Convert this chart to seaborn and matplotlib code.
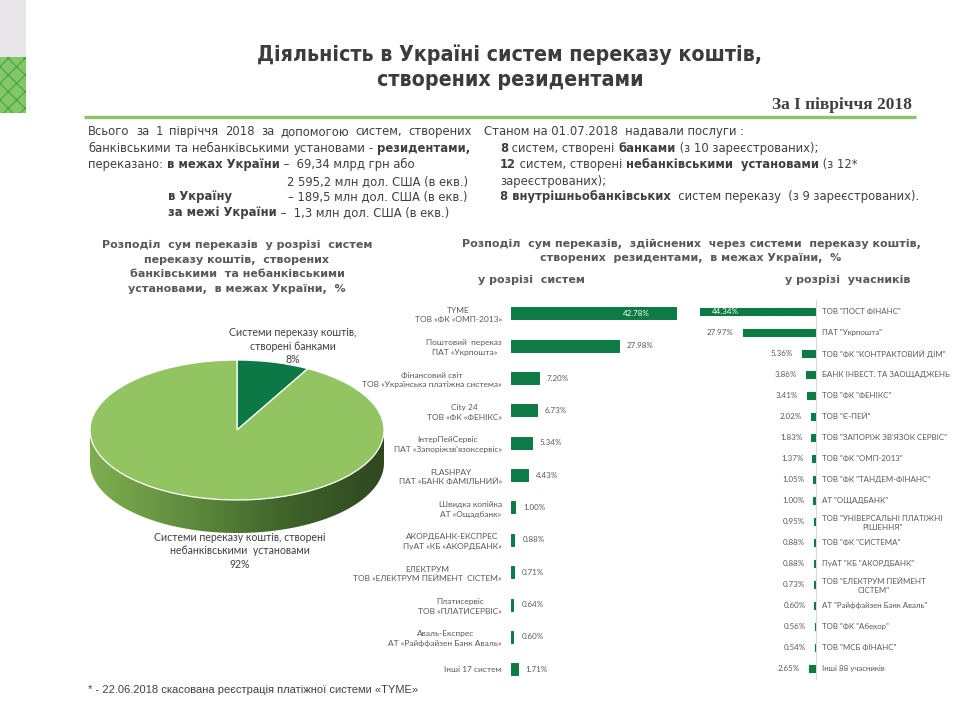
import os
import numpy as np
import matplotlib
matplotlib.use("Agg")
import matplotlib.pyplot as plt
import seaborn as sns
from matplotlib import font_manager as fm
from matplotlib.font_manager import FontProperties
from matplotlib.patches import Polygon, Rectangle
from matplotlib.colors import LinearSegmentedColormap

# ------------------------------------------------------------------ data
pie_categories = ["Системи переказу коштів,\nстворені банками",
                  "Системи переказу коштів, створені\nнебанківськими  установами"]
pie_values = [8, 92]

system_labels = [
    "TYME\nТОВ «ФК «ОМП-2013»",
    "Поштовий  переказ\nПАТ «Укрпошта»",
    "Фінансовий світ\nТОВ «Українська платіжна система»",
    "City 24\nТОВ «ФК «ФЕНІКС»",
    "ІнтерПейСервіс\nПАТ «Запоріжзв'язоксервіс»",
    "FLASHPAY\nПАТ «БАНК ФАМІЛЬНИЙ»",
    "Швидка копійка\nАТ «Ощадбанк»",
    "АКОРДБАНК-ЕКСПРЕС\nПуАТ «КБ «АКОРДБАНК»",
    "ЕЛЕКТРУМ\nТОВ «ЕЛЕКТРУМ ПЕЙМЕНТ  СІСТЕМ»",
    "Платисервіс\nТОВ «ПЛАТИСЕРВІС»",
    "Аваль-Експрес\nАТ «Райффайзен Банк Аваль»",
    "Інші 17 систем",
]
system_values = [42.78, 27.98, 7.20, 6.73, 5.34, 4.43, 1.00, 0.88, 0.71, 0.64, 0.60, 1.71]

participant_labels = [
    'ТОВ "ПОСТ ФІНАНС"',
    'ПАТ "Укрпошта"',
    'ТОВ "ФК "КОНТРАКТОВИЙ ДІМ"',
    'БАНК ІНВЕСТ. ТА ЗАОЩАДЖЕНЬ',
    'ТОВ "ФК "ФЕНІКС"',
    'ТОВ "Є-ПЕЙ"',
    'ТОВ "ЗАПОРІЖ ЗВ\'ЯЗОК СЕРВІС"',
    'ТОВ "ФК "ОМП-2013"',
    'ТОВ "ФК "ТАНДЕМ-ФІНАНС"',
    'АТ "ОЩАДБАНК"',
    'ТОВ "УНІВЕРСАЛЬНІ ПЛАТІЖНІ\nРІШЕННЯ"',
    'ТОВ "ФК "СИСТЕМА"',
    'ПуАТ "КБ "АКОРДБАНК"',
    'ТОВ "ЕЛЕКТРУМ ПЕЙМЕНТ\nСІСТЕМ"',
    'АТ "Райффайзен Банк Аваль"',
    'ТОВ "ФК "Абекор"',
    'ТОВ "МСБ ФІНАНС"',
    'Інші 88 учасників',
]
participant_values = [44.34, 27.97, 5.36, 3.86, 3.41, 2.02, 1.83, 1.37, 1.05, 1.00,
                      0.95, 0.88, 0.88, 0.73, 0.60, 0.56, 0.54, 2.65]

title_lines = ["Діяльність в Україні систем переказу коштів,", "створених резидентами"]
period_text = "За І півріччя 2018"
pie_title = ("Розподіл  сум переказів  у розрізі  систем\nпереказу коштів,  створених\n"
             "банківськими  та небанківськими\nустановами,  в межах України,  %")
bars_title = ("Розподіл  сум переказів,  здійснених  через системи  переказу коштів,\n"
              "створених  резидентами,  в межах України,  %")
sub_left = "у розрізі  систем"
sub_right = "у розрізі  учасників"
footnote = "* - 22.06.2018 скасована реєстрація платіжної системи «TYME»"

# ------------------------------------------------------------------ style
sns.set_style("white")
SMALL = ["Lato", "Open Sans", "DejaVu Sans"]
BOLDF = ["DejaVu Sans"]
plt.rcParams["font.family"] = ["DejaVu Sans"]
plt.rcParams["hatch.linewidth"] = 0.7


def find_font(*basenames):
    for f in fm.fontManager.ttflist:
        if os.path.basename(f.fname) in basenames:
            return f.fname
    return None


COND_REG = find_font("LiberationSansNarrow-Regular.ttf", "DejaVuSansCondensed.ttf")
COND_BOLD = find_font("LiberationSansNarrow-Bold.ttf", "DejaVuSansCondensed-Bold.ttf")


def cfp(bold, size):
    path = COND_BOLD if bold else COND_REG
    if path:
        return FontProperties(fname=path, size=size)
    return FontProperties(family="DejaVu Sans", weight="bold" if bold else "normal",
                          size=size)


TXT = "#404040"
GRAYTXT = "#595959"
BAR = "#0e7a45"
PIE_DARK = "#0b7845"
PIE_LIGHT = "#92c562"

W, H = 960, 720
fig = plt.figure(figsize=(9.6, 7.2), dpi=100)
fig.patch.set_facecolor("white")

bg = fig.add_axes([0, 0, 1, 1])
bg.set_xlim(0, W)
bg.set_ylim(H, 0)
bg.axis("off")
renderer = fig.canvas.get_renderer()


def box(x0, y0, x1, y1):
    return [x0 / W, 1 - y1 / H, (x1 - x0) / W, (y1 - y0) / H]


def width_of(s, prop):
    t1 = bg.text(0, 0, "|" + s + "|", fontproperties=prop)
    w1 = t1.get_window_extent(renderer).width
    t1.remove()
    t2 = bg.text(0, 0, "||", fontproperties=prop)
    w2 = t2.get_window_extent(renderer).width
    t2.remove()
    return w1 - w2


def fit_size(s, bold, target):
    return 10 * target / width_of(s, cfp(bold, 10))


# decoration strip
bg.add_patch(Rectangle((0, 0), 26, 57, facecolor="#e9e7ea", edgecolor="none"))
bg.add_patch(Rectangle((0, 57), 26, 56, facecolor="#84c766", edgecolor="#3c9d47",
                       hatch="xx", linewidth=0))

# title
TFS = fit_size(title_lines[0], True, 500)
bg.text(510, 55, title_lines[0], ha="center", va="center",
        fontproperties=cfp(True, TFS), color="#3c3c3c")
bg.text(510, 80, title_lines[1], ha="center", va="center",
        fontproperties=cfp(True, TFS), color="#3c3c3c")
bg.text(912, 105, period_text, ha="right", va="center", fontsize=12.5,
        fontweight="bold", color=TXT, family=["Liberation Serif", "DejaVu Serif"])
bg.plot([84, 916], [117, 117], color="#8dc26a", lw=2.4, solid_capstyle="butt")

# ------------------------------------------------------------------ rich text block
FS = fit_size("Станом на 01.07.2018  надавали послуги :", False, 262)


def tw(s, bold):
    return width_of(s, cfp(bold, FS))


def put(x, y, s, bold):
    bg.text(x, y, s, fontproperties=cfp(bold, FS), color=TXT, ha="left", va="baseline")


def run(x, y, segs, ha="left"):
    widths = [tw(s, b) for s, b in segs]
    if ha == "right":
        x -= sum(widths)
    for (s, b), w in zip(segs, widths):
        put(x, y, s, b)
        x += w
    return x


def justify(x0, x1, y, words):
    widths = [tw(s, b) for s, b in words]
    gap = max((x1 - x0 - sum(widths)) / (len(words) - 1), tw(" ", False))
    x = x0
    for (s, b), w in zip(words, widths):
        put(x, y, s, b)
        x += w + gap


ys = [135, 152, 168, 185, 200, 216]
justify(88, 472, ys[0], [(w, False) for w in
                         "Всього за 1 півріччя 2018 за допомогою систем, створених".split()])
justify(88, 470, ys[1], [("банківськими", False), ("та", False), ("небанківськими", False),
                         ("установами", False), ("-", False), ("резидентами,", True)])
run(88, ys[2], [("переказано: ", False), ("в межах України", True),
                (" –  69,34 млрд грн або", False)])
run(468, ys[3], [("2 595,2 млн дол. США (в екв.)", False)], ha="right")
run(168, ys[4], [("в Україну", True)])
run(468, ys[4], [("– 189,5 млн дол. США (в екв.)", False)], ha="right")
run(168, ys[5], [("за межі України", True), (" –  1,3 млн дол. США (в екв.)", False)])

run(484, ys[0], [("Станом на 01.07.2018  надавали послуги :", False)])
run(500, ys[1], [("8", True), (" систем, створені ", False), ("банками", True),
                 (" (з 10 зареєстрованих);", False)])
run(500, ys[2], [("12", True), (" систем, створені ", False),
                 ("небанківськими  установами", True), (" (з 12*", False)])
run(500, ys[3], [("зареєстрованих);", False)])
run(500, ys[4], [("8 внутрішньобанківських", True),
                 ("  систем переказу  (з 9 зареєстрованих).", False)])

# subtitles
bg.text(237, 267, pie_title, ha="center", va="center", fontsize=8, fontweight="bold",
        color=GRAYTXT, family=BOLDF, linespacing=1.6)
bg.text(691, 251, bars_title, ha="center", va="center", fontsize=8, fontweight="bold",
        color=GRAYTXT, family=BOLDF, linespacing=1.55)
bg.text(532, 280, sub_left, ha="center", va="center", fontsize=8, fontweight="bold",
        color=GRAYTXT, family=BOLDF)
bg.text(848, 280, sub_right, ha="center", va="center", fontsize=8, fontweight="bold",
        color=GRAYTXT, family=BOLDF)
bg.text(88, 690, footnote, ha="left", va="center", fontsize=8, color=TXT,
        family=["Liberation Sans", "DejaVu Sans"])

# ------------------------------------------------------------------ 3-D looking pie
cx, cy, rx, ry = 237, 430, 147, 70
depth = 33 / ry
px0, py0, px1, py1 = 80, 345, 395, 545
pax = fig.add_axes(box(px0, py0, px1, py1))
pax.pie(pie_values, colors=[PIE_DARK, PIE_LIGHT], startangle=90, counterclock=False,
        radius=1, wedgeprops=dict(edgecolor="white", linewidth=0.9))
t = np.linspace(np.pi, 2 * np.pi, 300)
side = np.vstack([np.c_[np.cos(t), np.sin(t)],
                  np.c_[np.cos(t[::-1]), np.sin(t[::-1]) - depth]])
side_cmap = LinearSegmentedColormap.from_list("side", ["#7fae50", "#5f8c3d", "#3f6329", "#2e4820"])
im = pax.imshow(np.linspace(0, 1, 256)[None, :], extent=(-1, 1, -1 - depth, 0),
                aspect="auto", cmap=side_cmap, zorder=0.5)
clip = Polygon(side, closed=True, transform=pax.transData, facecolor="none", edgecolor="none")
pax.add_patch(clip)
im.set_clip_path(clip)
pax.set_aspect("auto")
pax.set_xlim((px0 - cx) / rx, (px1 - cx) / rx)
pax.set_ylim((cy - py1) / ry, (cy - py0) / ry)
pax.axis("off")

bg.text(293, 346, f"{pie_categories[0]}\n{pie_values[0]}%", ha="center", va="center",
        fontsize=7.6, color=TXT, family=SMALL, linespacing=1.3)
bg.text(240, 551, f"{pie_categories[1]}\n{pie_values[1]}%", ha="center", va="center",
        fontsize=7.6, color=TXT, family=SMALL, linespacing=1.3)

# ------------------------------------------------------------------ bars by system
ls = 3.86       # px per percent
lx0 = 511
lstep = (669.3 - 313.3) / 11
lax = fig.add_axes(box(lx0, 313.3 - lstep / 2, lx0 + 45 * ls, 669.3 + lstep / 2))
lax.patch.set_alpha(0)
sns.barplot(x=system_values, y=system_labels, orient="h", color=BAR, saturation=1,
            width=12 / lstep, edgecolor=BAR, linewidth=0.7, ax=lax)
lax.set_xlim(0, 45)
lax.set(xlabel="", ylabel="", xticks=[])
sns.despine(ax=lax, left=True, bottom=True)
lax.tick_params(axis="y", length=0, pad=6.5)
for lbl in lax.get_yticklabels():
    lbl.set_fontsize(6)
    lbl.set_family(SMALL)
    lbl.set_color(GRAYTXT)
    lbl.set_multialignment("center")
    lbl.set_linespacing(1.45)
for i, v in enumerate(system_values):
    if i == 0:
        lax.annotate(f"{v:.2f}%", xy=(v, i), xytext=(-26, 0), textcoords="offset pixels",
                     ha="right", va="center", fontsize=5.8, color="white", family=SMALL)
    else:
        lax.annotate(f"{v:.2f}%", xy=(v, i), xytext=(8, 0), textcoords="offset pixels",
                     ha="left", va="center", fontsize=5.8, color=GRAYTXT, family=SMALL)

# ------------------------------------------------------------------ bars by participant
rs = 2.62
rx0 = 816
rstep = (668.3 - 311) / 17
rmax = 45.5
rax = fig.add_axes(box(rx0 - rmax * rs, 311 - rstep / 2, rx0, 668.3 + rstep / 2))
rax.patch.set_alpha(0)
sns.barplot(x=participant_values, y=participant_labels, orient="h", color=BAR,
            saturation=1, width=7 / rstep, edgecolor=BAR, linewidth=0.8, ax=rax)
rax.set_xlim(rmax, 0)
rax.set(xlabel="", ylabel="", xticks=[])
rax.yaxis.tick_right()
for s in ["left", "top", "bottom"]:
    rax.spines[s].set_visible(False)
rax.spines["right"].set_color("#d9d9d9")
rax.spines["right"].set_linewidth(0.8)
rax.spines["right"].set_zorder(0.5)
rax.tick_params(axis="y", length=0, pad=4.3)
for lbl in rax.get_yticklabels():
    lbl.set_fontsize(5.7)
    lbl.set_family(SMALL)
    lbl.set_color(GRAYTXT)
    lbl.set_multialignment("center")
    lbl.set_linespacing(1.4)
for i, v in enumerate(participant_values):
    if i == 0:
        rax.annotate(f"{v:.2f}%", xy=(v, i), xytext=(12, 0), textcoords="offset pixels",
                     ha="left", va="center", fontsize=5.8, color="white", family=SMALL)
    else:
        rax.annotate(f"{v:.2f}%", xy=(v, i), xytext=(-9, 0), textcoords="offset pixels",
                     ha="right", va="center", fontsize=5.8, color=GRAYTXT, family=SMALL)

fig.savefig("out.png", dpi=100, facecolor="white")
